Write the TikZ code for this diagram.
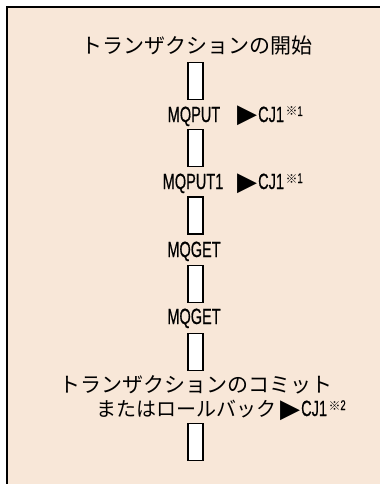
\documentclass[tikz,border=0pt]{standalone}
\usepackage{fontspec}
\newfontfamily\jp{Noto Sans CJK JP}
\newfontfamily\dv{DejaVu Sans}
\newfontfamily\nar[FakeStretch=0.66,FakeBold=0.6]{Liberation Sans}
\definecolor{bgpeach}{RGB}{248,231,216}
\newcommand{\cjnote}[1]{\raisebox{-1pt}{\dv\fontsize{26}{26}\selectfont ▶}\kern1pt{\nar\fontsize{22}{24}\selectfont CJ1}\kern1.5pt\raisebox{6pt}{{\jp\fontsize{12}{12}\selectfont ※}{\nar\fontsize{14}{14}\selectfont #1}}}
\begin{document}
\begin{tikzpicture}[x=1pt,y=1pt,
  pipe/.style={draw=black,line width=1.3pt,fill=white,minimum width=15pt,minimum height=37pt,inner sep=0pt},
  jtxt/.style={font=\jp\fontsize{21}{24}\selectfont,inner sep=0pt,anchor=base},
  ltxt/.style={font=\nar\fontsize{22}{24}\selectfont,inner sep=0pt,anchor=base},
  ntxt/.style={inner sep=0pt,anchor=base west}]
\useasboundingbox (0,0) rectangle (380,-484);
\fill[bgpeach] (7,-7) rectangle (380,-484);
\draw[line width=1.6pt] (7,-484) -- (7,-7) -- (380,-7);
\node[jtxt] (start) at (197,-54) {トランザクションの開始};
\node[pipe] (p1) at (195.5,-81) {};
\node[ltxt] (put) at (194,-122) {MQPUT};
\node[ntxt] (n1) at (237,-122) {\cjnote{1}};
\node[pipe] (p2) at (195.5,-148) {};
\node[ltxt] (put1) at (193,-189) {MQPUT1};
\node[ntxt] (n2) at (237,-189) {\cjnote{1}};
\node[pipe] (p3) at (195.5,-215.5) {};
\node[ltxt] (get1) at (194,-257) {MQGET};
\node[pipe] (p4) at (195.5,-284) {};
\node[ltxt] (get2) at (194,-324) {MQGET};
\node[pipe] (p5) at (195.5,-352) {};
\node[jtxt] (commit) at (196,-392) {トランザクションのコミット};
\node[jtxt,font=\jp\fontsize{20}{24}\selectfont,anchor=base east] (roll) at (277,-416) {またはロールバック};
\node[ntxt] (n3) at (280,-416) {\cjnote{2}};
\node[pipe] (p6) at (195.5,-442) {};
\end{tikzpicture}
\end{document}
